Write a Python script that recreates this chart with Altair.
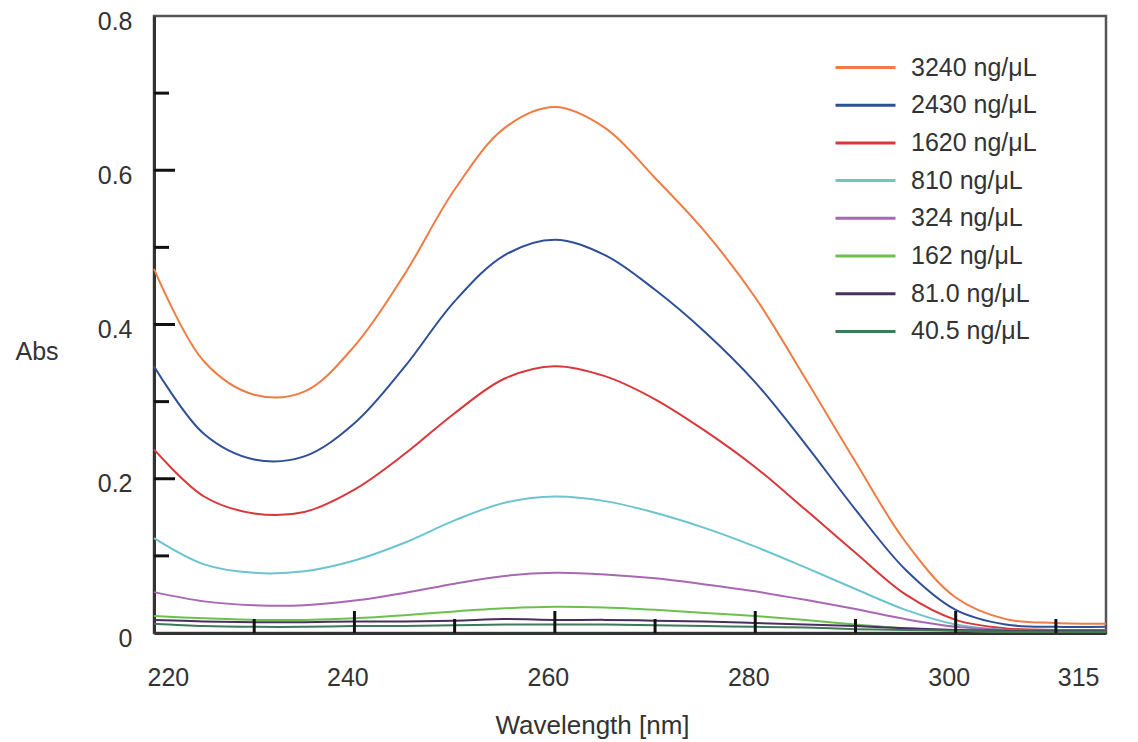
import altair as alt
import pandas as pd

wavelengths = [220, 225, 230, 235, 240, 245, 250, 255, 260, 265, 270, 275, 280, 285, 290, 295, 300, 305, 310, 315]

series_labels = ["3240 ng/\u03bcL", "2430 ng/\u03bcL", "1620 ng/\u03bcL", "810 ng/\u03bcL",
                 "324 ng/\u03bcL", "162 ng/\u03bcL", "81.0 ng/\u03bcL", "40.5 ng/\u03bcL"]
series_colors = ["#EE7C44", "#2F4F97", "#D8383A", "#6CC4D0", "#A868B2", "#6CC04E", "#4A2F5E", "#3C7A58"]

abs_3240 = [0.472, 0.352, 0.309, 0.313, 0.372, 0.465, 0.575, 0.655, 0.682, 0.655, 0.590, 0.520, 0.435, 0.330, 0.222, 0.118, 0.046, 0.018, 0.013, 0.012]
abs_2430 = [0.346, 0.258, 0.225, 0.229, 0.272, 0.345, 0.430, 0.490, 0.510, 0.490, 0.445, 0.390, 0.325, 0.245, 0.160, 0.082, 0.030, 0.011, 0.008, 0.008]
abs_1620 = [0.238, 0.177, 0.155, 0.157, 0.186, 0.232, 0.285, 0.330, 0.346, 0.333, 0.303, 0.262, 0.215, 0.160, 0.104, 0.050, 0.017, 0.006, 0.004, 0.004]
abs_810 = [0.123, 0.089, 0.078, 0.080, 0.094, 0.117, 0.146, 0.169, 0.177, 0.171, 0.156, 0.136, 0.112, 0.085, 0.057, 0.030, 0.011, 0.004, 0.003, 0.003]
abs_324 = [0.053, 0.041, 0.036, 0.036, 0.042, 0.052, 0.064, 0.074, 0.078, 0.076, 0.071, 0.063, 0.054, 0.043, 0.031, 0.018, 0.008, 0.004, 0.003, 0.003]
abs_162 = [0.022, 0.019, 0.017, 0.017, 0.019, 0.023, 0.028, 0.032, 0.034, 0.033, 0.030, 0.026, 0.022, 0.017, 0.011, 0.006, 0.003, 0.002, 0.002, 0.002]
abs_81 = [0.017, 0.015, 0.014, 0.014, 0.015, 0.015, 0.016, 0.018, 0.017, 0.017, 0.016, 0.015, 0.013, 0.011, 0.009, 0.006, 0.004, 0.003, 0.003, 0.003]
abs_40 = [0.012, 0.009, 0.008, 0.008, 0.009, 0.009, 0.010, 0.011, 0.011, 0.011, 0.010, 0.009, 0.008, 0.007, 0.005, 0.004, 0.003, 0.002, 0.002, 0.002]

all_series = [abs_3240, abs_2430, abs_1620, abs_810, abs_324, abs_162, abs_81, abs_40]

x_label_values = [220, 240, 260, 280, 300, 315]
y_label_values = [0, 0.2, 0.4, 0.6, 0.8]
x_major_ticks = [240, 260, 280, 300]
x_minor_ticks = [230, 250, 270, 290, 310]
y_major_ticks = [0.2, 0.4, 0.6]
y_minor_ticks = [0.1, 0.3, 0.5, 0.7]

rows = []
for lab, vals in zip(series_labels, all_series):
    for w, v in zip(wavelengths, vals):
        rows.append({"wl": w, "abs": v, "series": lab})
df = pd.DataFrame(rows)

W, H = 952, 617
FONT = "Liberation Sans, Arial, Helvetica, sans-serif"
TXT = "#333333"

x_scale = alt.Scale(domain=[220, 315], nice=False, zero=False)
y_scale = alt.Scale(domain=[0, 0.8], nice=False)

x_axis = alt.Axis(values=x_label_values, title="Wavelength [nm]", grid=False, ticks=False, tickSize=0,
                  labelFont=FONT, labelFontSize=25, labelColor=TXT, labelPadding=32, labelOffset=-7,
                  domainColor="#333333", domainWidth=3,
                  titleFont=FONT, titleFontSize=26, titleFontWeight="normal", titleColor=TXT,
                  titleX=438, titleY=100, titleAlign="center", titleBaseline="alphabetic")
y_axis = alt.Axis(values=y_label_values, title="Abs", grid=False, ticks=False, tickSize=0,
                  labelExpr="datum.value == 0 ? '0' : format(datum.value, '.1f')",
                  labelFont=FONT, labelFontSize=25, labelColor=TXT, labelPadding=22, labelOffset=5,
                  domainColor="#333333", domainWidth=3,
                  titleFont=FONT, titleFontSize=25, titleFontWeight="normal", titleColor=TXT,
                  titleAngle=0, titleX=-139, titleY=335, titleAlign="left", titleBaseline="middle")

lines = alt.Chart(df).mark_line(strokeWidth=2, interpolate="catmull-rom").encode(
    x=alt.X("wl:Q", scale=x_scale, axis=x_axis),
    y=alt.Y("abs:Q", scale=y_scale, axis=y_axis),
    color=alt.Color("series:N", sort=series_labels,
                    scale=alt.Scale(domain=series_labels, range=series_colors),
                    legend=alt.Legend(title=None, orient="none", legendX=699, legendY=39,
                                      symbolType="M-3,0H3", symbolSize=400, symbolStrokeWidth=3,
                                      symbolFillColor="transparent",
                                      labelFont=FONT, labelFontSize=25, labelColor=TXT,
                                      labelOffset=33, rowPadding=11.7, padding=0)),
    detail="series:N",
)

xmaj = alt.Chart(pd.DataFrame({"wl": x_major_ticks})).mark_rule(color="#111111", strokeWidth=3).encode(
    x=alt.X("wl:Q", scale=x_scale, axis=x_axis), y=alt.value(H), y2=alt.value(H - 22))
xmin = alt.Chart(pd.DataFrame({"wl": x_minor_ticks})).mark_rule(color="#111111", strokeWidth=3).encode(
    x=alt.X("wl:Q", scale=x_scale, axis=x_axis), y=alt.value(H), y2=alt.value(H - 14))
ymaj = alt.Chart(pd.DataFrame({"abs": y_major_ticks})).mark_rule(color="#111111", strokeWidth=3).encode(
    y=alt.Y("abs:Q", scale=y_scale, axis=y_axis), x=alt.value(0), x2=alt.value(21))
ymin = alt.Chart(pd.DataFrame({"abs": y_minor_ticks})).mark_rule(color="#111111", strokeWidth=3).encode(
    y=alt.Y("abs:Q", scale=y_scale, axis=y_axis), x=alt.value(0), x2=alt.value(15))

chart = alt.layer(lines, xmaj, xmin, ymaj, ymin).properties(
    width=W, height=H,
    autosize=alt.AutoSizeParams(type="none"),
    padding={"left": 146, "top": 8, "right": 24, "bottom": 120},
    background="white",
).configure_view(stroke="#555555", strokeWidth=2.5)

chart.save("out.html", embed_options={"renderer": "svg", "actions": False})
